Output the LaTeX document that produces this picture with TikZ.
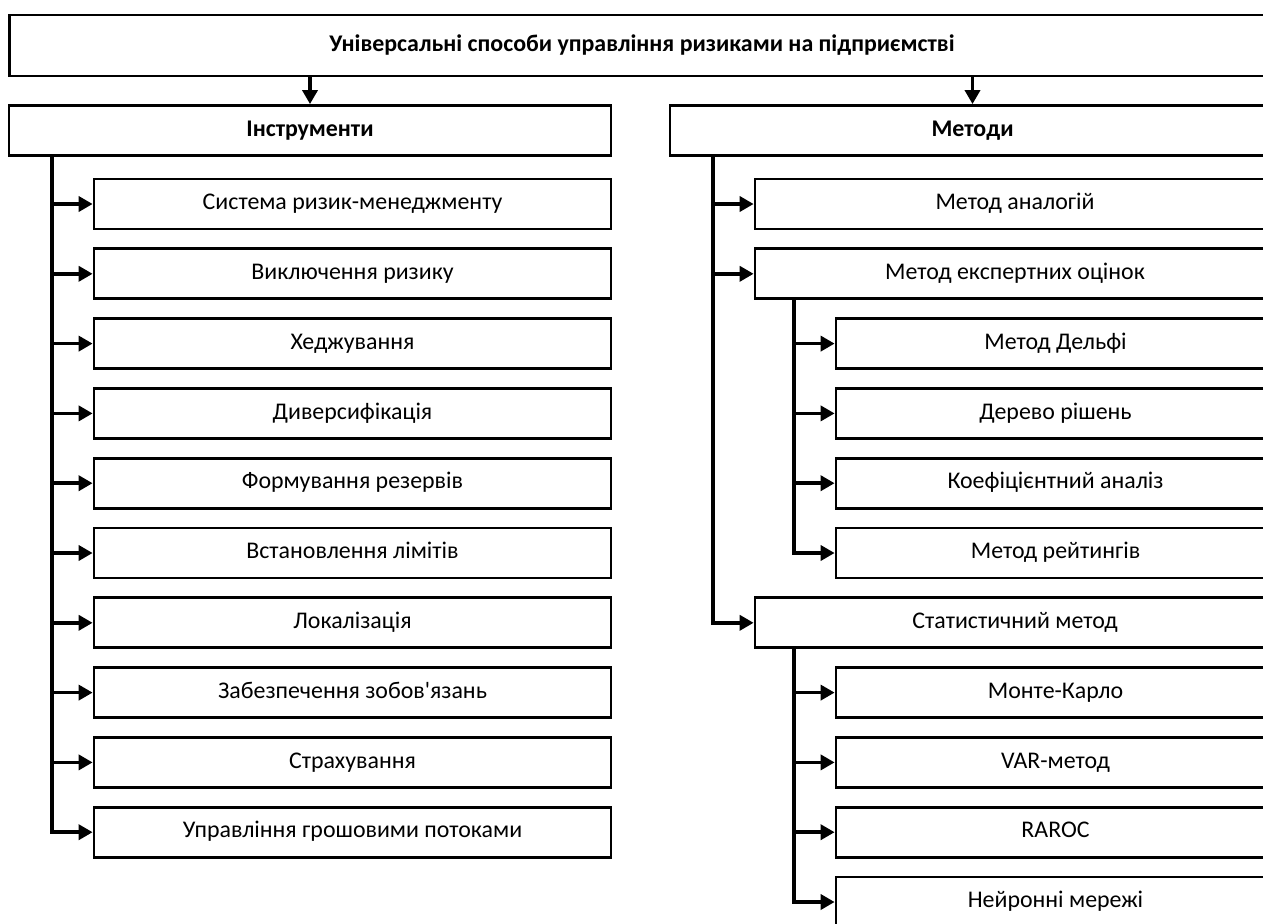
\documentclass[tikz,border=0pt]{standalone}
\usepackage{fontspec}
\setmainfont{Carlito}
\usetikzlibrary{arrows.meta}

\begin{document}
\begin{tikzpicture}[x=0.02cm, y=-0.02cm,
    box/.style={draw, line width=1.6pt, inner sep=0pt, minimum height=1cm,
        text height=9.5pt, text depth=3pt,
        font=\fontsize{13.6}{16}\selectfont},
    headbox/.style={box, font=\fontsize{13.6}{16}\selectfont\bfseries},
    itembox/.style={box, minimum width=10.34cm},
    methbox/.style={box, minimum width=10.4cm},
    subbox/.style={box, minimum width=8.78cm},
    link/.style={line width=2pt},
    arr/.style={link, -{Triangle[length=0.28cm, width=0.3cm]}}]
    % Page frame (boxes on the right run past the edge)
    \useasboundingbox (0,0) rectangle (1263,923);
    \clip (0,0) rectangle (1263,923);

    % Top level
    \node[headbox, minimum width=25.32cm, minimum height=1.22cm] (top) at (642,45.5)
        {Універсальні способи управління ризиками на підприємстві};
    \node[headbox, minimum width=12.04cm] (tools) at (310,130.5) {Інструменти};
    \node[headbox, minimum width=12.1cm] (methods) at (972.5,130.5) {Методи};
    \draw[arr] (top.south -| tools) -- (tools.north);
    \draw[arr] (top.south -| methods) -- (methods.north);

    % Instruments
    \node[itembox] (t1) at (352.5,204) {Система ризик-менеджменту};
    \node[itembox] (t2) at (352.5,273.8) {Виключення ризику};
    \node[itembox] (t3) at (352.5,343.6) {Хеджування};
    \node[itembox] (t4) at (352.5,413.4) {Диверсифікація};
    \node[itembox] (t5) at (352.5,483.2) {Формування резервів};
    \node[itembox] (t6) at (352.5,553) {Встановлення лімітів};
    \node[itembox] (t7) at (352.5,622.8) {Локалізація};
    \node[itembox] (t8) at (352.5,692.6) {Забезпечення зобов\textquotesingle язань};
    \node[itembox] (t9) at (352.5,762.4) {Страхування};
    \node[itembox] (t10) at (352.5,832.2) {Управління грошовими потоками};

    \coordinate (tspine) at (52,155);
    \draw[arr] (tspine) |- (t10.west);
    \foreach \n in {t1,t2,t3,t4,t5,t6,t7,t8,t9}
        \draw[arr] (tspine |- \n.west) -- (\n.west);

    % Methods
    \node[methbox] (m1) at (1015,204) {Метод аналогій};
    \node[methbox] (m2) at (1015,273.8) {Метод експертних оцінок};
    \node[subbox] (e1) at (1055.5,343.6) {Метод Дельфі};
    \node[subbox] (e2) at (1055.5,413.4) {Дерево рішень};
    \node[subbox] (e3) at (1055.5,483.2) {Коефіцієнтний аналіз};
    \node[subbox] (e4) at (1055.5,553) {Метод рейтингів};
    \node[methbox] (m3) at (1015,622.8) {Статистичний метод};
    \node[subbox] (s1) at (1055.5,692.6) {Монте-Карло};
    \node[subbox] (s2) at (1055.5,762.4) {VAR-метод};
    \node[subbox] (s3) at (1055.5,832.2) {RAROC};
    \node[subbox] (s4) at (1055.5,902) {Нейронні мережі};

    \coordinate (mspine) at (713,155);
    \draw[arr] (mspine |- methods.south) |- (m3.west);
    \draw[arr] (mspine |- m1.west) -- (m1.west);
    \draw[arr] (mspine |- m2.west) -- (m2.west);

    % Sub-methods
    \coordinate (espine) at (794,299);
    \draw[arr] (espine |- m2.south) |- (e4.west);
    \foreach \n in {e1,e2,e3}
        \draw[arr] (espine |- \n.west) -- (\n.west);
    \draw[arr] (espine |- m3.south) |- (s4.west);
    \foreach \n in {s1,s2,s3}
        \draw[arr] (espine |- \n.west) -- (\n.west);
\end{tikzpicture}
\end{document}
